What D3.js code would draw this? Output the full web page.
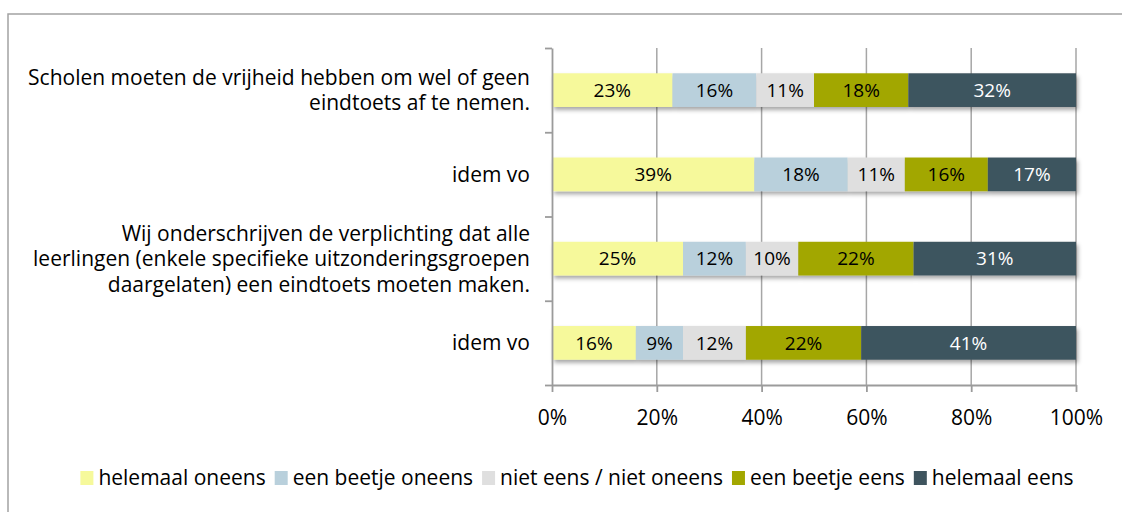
<!DOCTYPE html>
<html>
<head>
<meta charset="utf-8">
<script src="https://cdn.jsdelivr.net/npm/d3@7"></script>
<style>
  body { margin: 0; background: #fff; }
  text { font-family: "Open Sans", "Noto Sans", sans-serif; fill: #000; }
</style>
</head>
<body>
<svg id="chart"></svg>
<script>
var width = 1122, height = 512;
var margin = {top: 48, left: 552, right: 46, bottom: 127};

// data
var categories = [
  ["Scholen moeten de vrijheid hebben om wel of geen", "eindtoets af te nemen."],
  ["idem vo"],
  ["Wij onderschrijven de verplichting dat alle", "leerlingen (enkele specifieke uitzonderingsgroepen", "daargelaten) een eindtoets moeten maken."],
  ["idem vo"]
];
var series = ["helemaal oneens", "een beetje oneens", "niet eens / niet oneens", "een beetje eens", "helemaal eens"];
var helemaalOneens = [23, 39, 25, 16];
var beetjeOneens   = [16, 18, 12, 9];
var neutraal       = [11, 11, 10, 12];
var beetjeEens     = [18, 16, 22, 22];
var helemaalEens   = [32, 17, 31, 41];
var colors = ["#f6f99b", "#b9d0dc", "#dfdfdf", "#a2a700", "#3e545e"];
var labelColors = ["#000", "#000", "#000", "#000", "#fff"];
var xTicks = [0, 0.2, 0.4, 0.6, 0.8, 1];

var rows = categories.map(function(c, i) {
  return {
    idx: i,
    "helemaal oneens": helemaalOneens[i],
    "een beetje oneens": beetjeOneens[i],
    "niet eens / niet oneens": neutraal[i],
    "een beetje eens": beetjeEens[i],
    "helemaal eens": helemaalEens[i]
  };
});
var stacked = d3.stack().keys(series).offset(d3.stackOffsetExpand)(rows);

var svg = d3.select('#chart').attr('width', width).attr('height', height);

// shadow
var defs = svg.append('defs');
defs.append('filter').attr('id', 'shadow')
  .attr('x', '-5%').attr('y', '-30%').attr('width', '110%').attr('height', '170%')
  .append('feDropShadow')
  .attr('dx', 2).attr('dy', 3).attr('stdDeviation', 2)
  .attr('flood-color', '#000').attr('flood-opacity', 0.35);

// outer frame
svg.append('rect')
  .attr('x', 8).attr('y', 14).attr('width', 1140).attr('height', 520)
  .attr('fill', 'none').attr('stroke', '#a3a3a3').attr('stroke-width', 1.5);

var x = d3.scaleLinear().domain([0, 1]).range([margin.left, width - margin.right]);
var yEdge = d3.scaleLinear().domain([0, categories.length]).range([margin.top, height - margin.bottom]);
var y = d3.scaleBand().domain(d3.range(categories.length))
  .range([margin.top, height - margin.bottom])
  .paddingInner(0.6).paddingOuter(0.3);

// gridlines
svg.append('g').selectAll('line')
  .data(xTicks.slice(1)).enter()
  .append('line')
  .attr('x1', function(d) { return x(d); })
  .attr('x2', function(d) { return x(d); })
  .attr('y1', margin.top)
  .attr('y2', height - margin.bottom)
  .attr('stroke', '#a6a6a6').attr('stroke-width', 1.5);

// bars
var barRows = svg.append('g').selectAll('g')
  .data(rows).enter()
  .append('g')
  .attr('filter', 'url(#shadow)');

barRows.selectAll('rect')
  .data(function(r) {
    return stacked.map(function(s, k) { return {k: k, row: r.idx, d: s[r.idx]}; });
  }).enter()
  .append('rect')
  .attr('x', function(d) { return x(d.d[0]); })
  .attr('y', function(d) { return y(d.row); })
  .attr('width', function(d) { return x(d.d[1]) - x(d.d[0]); })
  .attr('height', y.bandwidth())
  .attr('fill', function(d) { return colors[d.k]; });

// value labels
var vals = [helemaalOneens, beetjeOneens, neutraal, beetjeEens, helemaalEens];
svg.append('g').selectAll('g')
  .data(rows).enter()
  .append('g')
  .selectAll('text')
  .data(function(r) {
    return stacked.map(function(s, k) { return {k: k, row: r.idx, d: s[r.idx]}; });
  }).enter()
  .append('text')
  .attr('x', function(d) { return (x(d.d[0]) + x(d.d[1])) / 2; })
  .attr('y', function(d) { return y(d.row) + y.bandwidth() / 2; })
  .attr('dy', '0.36em')
  .attr('text-anchor', 'middle')
  .style('font-size', '19px')
  .style('fill', function(d) { return labelColors[d.k]; })
  .text(function(d) { return vals[d.k][d.row] + '%'; });

// left axis (ticks at category boundaries)
var leftAxis = svg.append('g')
  .attr('transform', 'translate(' + margin.left + ',0)')
  .call(d3.axisLeft(yEdge).tickValues(d3.range(categories.length + 1)).tickSize(7).tickSizeOuter(0).tickFormat(''));
leftAxis.selectAll('path, line').attr('stroke', '#9b9b9b').attr('stroke-width', 1.8);

// bottom axis
var bottomAxis = svg.append('g')
  .attr('transform', 'translate(0,' + (height - margin.bottom) + ')')
  .call(d3.axisBottom(x).tickValues(xTicks).tickSize(7).tickSizeOuter(0).tickFormat(d3.format('.0%')));
bottomAxis.selectAll('path, line').attr('stroke', '#9b9b9b').attr('stroke-width', 1.8);
bottomAxis.selectAll('text')
  .attr('y', 40).attr('dy', 0)
  .style('font-size', '21px').style('font-family', '"Open Sans", "Noto Sans", sans-serif').style('fill', '#000');

// category labels
var catG = svg.append('g').selectAll('text')
  .data(categories).enter()
  .append('text')
  .attr('text-anchor', 'end')
  .style('font-size', '21px');
catG.each(function(lines, i) {
  var cy = y(i) + y.bandwidth() / 2;
  var lh = 25.5;
  var t = d3.select(this);
  lines.forEach(function(l, j) {
    t.append('tspan')
      .attr('x', 530)
      .attr('y', cy + (j - (lines.length - 1) / 2) * lh)
      .attr('dy', '0.36em')
      .text(l);
  });
});

// legend
var legend = svg.append('g');
var items = legend.selectAll('g').data(series).enter().append('g');
items.append('rect')
  .attr('width', 13).attr('height', 14).attr('y', 471)
  .attr('fill', function(d, i) { return colors[i]; });
items.append('text')
  .attr('x', 18).attr('y', 485)
  .style('font-size', '21px')
  .text(function(d) { return d; });
var cursor = 0;
items.each(function() {
  var w = this.getBBox().width;
  d3.select(this).attr('transform', 'translate(' + cursor + ',0)');
  cursor += w + 9;
});
var total = cursor - 9;
legend.attr('transform', 'translate(' + (577 - total / 2) + ',0)');
</script>
</body>
</html>
